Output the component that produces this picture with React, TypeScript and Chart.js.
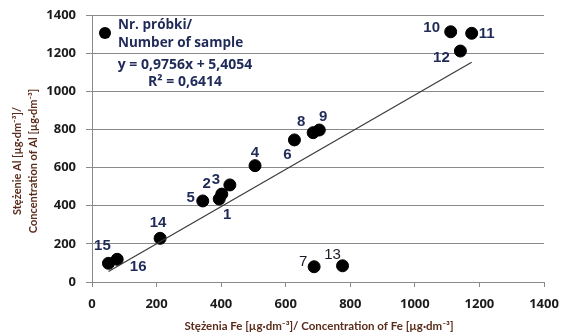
import React, { useEffect, useRef } from "react";
import { Chart, registerables } from "chart.js";

Chart.register(...registerables);

// Data: Fe (x) and Al (y) concentrations for samples 1..16
const sampleIds = ["1", "2", "3", "4", "5", "6", "7", "8", "9", "10", "11", "12", "13", "14", "15", "16"];
const feValues = [394, 402, 427, 505, 343, 627, 688, 685, 704, 1111, 1176, 1141, 776, 211, 51, 78];
const alValues = [435, 461, 509, 610, 425, 745, 80, 783, 797, 1312, 1304, 1211, 85, 229, 98, 119];
const trendSlope = 0.9756;
const trendIntercept = 5.4054;
const axisTicks = [0, 200, 400, 600, 800, 1000, 1200, 1400];
const xTitle = "Stężenia Fe [µg·dm⁻³]/ Concentration of Fe [µg·dm⁻³]";
const yTitle = ["Stężenie Al [µg·dm⁻³]/", "Concentration of Al [µg·dm⁻³]"];

// label offsets in px (annotation layout, not data)
const labelOffsets: [number, number][] = [
  [8, 16], [-15, -10], [-14, -5], [0, -13], [-12, -3], [-7, 15], [-11, -5], [-12, -11],
  [4, -13], [-19, -4], [15, 1], [-19, 7], [-10, -11], [-2, -15], [-6, -17], [21, 8],
];

const NAVY = "#1f2a58";
const TITLE = "#5b2c1c";
const TICK = "#1b1b1b";
const GRID = "#8a8a8a";

export default function App() {
  const ref = useRef<HTMLCanvasElement>(null);
  useEffect(() => {
    if (!ref.current) return;
    const xMin = Math.min(...feValues);
    const xMax = Math.max(...feValues);
    const trend = [xMin, xMax].map((x) => ({ x, y: trendSlope * x + trendIntercept }));

    const labelPlugin = {
      id: "pointLabels",
      afterDatasetsDraw(chart: any) {
        const ctx = chart.ctx;
        const meta = chart.getDatasetMeta(1);
        ctx.save();
        ctx.textAlign = "center";
        ctx.textBaseline = "middle";
        meta.data.forEach((el: any, i: number) => {
          const [dx, dy] = labelOffsets[i];
          const thin = sampleIds[i] === "7" || sampleIds[i] === "13";
          ctx.font = (thin ? "" : "bold ") + "15px 'Liberation Sans Narrow', 'Liberation Sans'";
          ctx.fillStyle = thin ? "#1a1a2a" : NAVY;
          ctx.fillText(sampleIds[i], el.x + dx, el.y + dy);
        });
        // legend / annotation block
        const ca = chart.chartArea;
        const lx = ca.left + 13;
        const ly = ca.top + 18;
        ctx.fillStyle = "#000";
        ctx.beginPath();
        ctx.arc(lx, ly, 6, 0, Math.PI * 2);
        ctx.fill();
        ctx.fillStyle = NAVY;
        ctx.textAlign = "left";
        ctx.font = "bold 13.5px 'Open Sans'";
        ctx.fillText("Nr. próbki/", lx + 13, ly - 8);
        ctx.fillText("Number of sample", lx + 13, ly + 10);
        ctx.textAlign = "center";
        ctx.font = "bold 14px 'Open Sans'";
        ctx.fillText("y = 0,9756x + 5,4054", ca.left + 93, ca.top + 50);
        ctx.fillText("R² = 0,6414", ca.left + 93, ca.top + 67);
        // axis titles
        ctx.fillStyle = TITLE;
        ctx.font = "bold 11.5px Lato";
        ctx.fillText(xTitle, (ca.left + ca.right) / 2 + 1, 326);
        ctx.font = "bold 11px Lato";
        ctx.translate(0, 161);
        ctx.rotate(-Math.PI / 2);
        ctx.fillText(yTitle[0], 0, 17);
        ctx.fillText(yTitle[1], 0, 33);
        ctx.restore();
      },
    };

    const tickFont = { family: "'Open Sans'", weight: "bold" as const, size: 13 };

    const chart = new Chart(ref.current, {
      type: "scatter",
      data: {
        datasets: [
          {
            type: "line",
            data: trend,
            borderColor: "#3a3a3a",
            borderWidth: 1.2,
            pointRadius: 0,
            fill: false,
          } as any,
          {
            data: feValues.map((x, i) => ({ x, y: alValues[i] })),
            backgroundColor: "#000",
            borderColor: "#000",
            pointRadius: 6,
            pointHoverRadius: 6,
          },
        ],
      },
      options: {
        responsive: false,
        animation: false,
        layout: { padding: { top: 15, right: 18, left: 0, bottom: 0 } },
        plugins: { legend: { display: false }, tooltip: { enabled: false } },
        scales: {
          x: {
            type: "linear",
            min: 0,
            max: 1400,
            afterBuildTicks: (s: any) => { s.ticks = axisTicks.map((v) => ({ value: v })); },
            afterFit: (s: any) => { s.height = 54; s.paddingLeft = 0; s.paddingRight = 0; },
            ticks: { color: TICK, font: tickFont, padding: 9, maxRotation: 0, callback: (v: any) => String(v) },
            grid: { drawOnChartArea: false, drawTicks: true, tickLength: 5, color: GRID },
            border: { display: true, color: GRID },
          },
          y: {
            type: "linear",
            min: 0,
            max: 1400,
            afterBuildTicks: (s: any) => { s.ticks = axisTicks.map((v) => ({ value: v })); },
            afterFit: (s: any) => { s.width = 92; s.paddingTop = 0; s.paddingBottom = 0; },
            ticks: { color: TICK, font: tickFont, padding: 10, callback: (v: any) => String(v) },
            grid: { drawTicks: true, tickLength: 6, color: GRID },
            border: { display: true, color: GRID },
          },
        },
      },
      plugins: [labelPlugin],
    });
    return () => chart.destroy();
  }, []);
  return (
    <canvas
      ref={ref}
      width={562}
      height={336}
      style={{ position: "absolute", left: 0, top: 0, display: "block", background: "#fff" }}
    />
  );
}
